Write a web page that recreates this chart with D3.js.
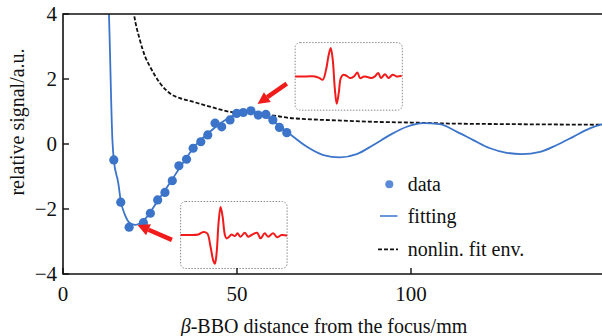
<!DOCTYPE html>
<html>
<head>
<meta charset="utf-8">
<script src="https://cdn.jsdelivr.net/npm/d3@7"></script>
<style>
  body { margin: 0; background: #fff; }
  svg { display: block; }
</style>
</head>
<body>
<svg id="chart" width="602" height="336" font-family="'Liberation Serif', 'Times New Roman', Times, serif"></svg>
<script>
// Axis ticks
const xTicks = [0, 50, 100];
const yTicks = [-4, -2, 0, 2, 4];

// Measured signal vs. crystal distance (mm, a.u.)
const dataX = [14.6, 16.6, 19.0, 23.1, 25.1, 27.2, 29.3, 31.4, 33.3, 35.5, 37.4, 39.6, 41.6, 43.7, 45.6, 48.0, 49.9, 51.8, 54.0, 56.1, 58.3, 60.3, 62.2, 64.3];
const dataY = [-0.49, -1.79, -2.56, -2.42, -2.13, -1.72, -1.49, -1.13, -0.67, -0.47, -0.13, 0.07, 0.28, 0.64, 0.53, 0.74, 0.94, 0.97, 1.02, 0.89, 0.91, 0.74, 0.51, 0.35];

// Fitted curve
const fitX = [13.0, 13.2, 14.2, 14.6, 15.9, 16.6, 17.8, 19.3, 20.7, 22.1, 24.0, 26.9, 30.7, 34.6, 38.4, 41.6, 44.0, 47.0, 51.8, 53.5, 55.0, 58.5, 64.3, 70.0, 74.8, 79.6, 84.4, 89.2, 94.0, 98.8, 103.5, 108.3, 113.1, 117.9, 122.7, 127.5, 131.8, 137.1, 141.9, 146.6, 151.4, 155.0, 157.0];
const fitY = [4.6, 4.0, 0.12, -0.49, -1.21, -1.75, -2.18, -2.44, -2.49, -2.44, -2.26, -1.80, -1.20, -0.56, 0.0, 0.32, 0.54, 0.76, 0.98, 1.0, 0.98, 0.84, 0.38, -0.08, -0.34, -0.41, -0.31, -0.03, 0.28, 0.53, 0.64, 0.61, 0.38, 0.12, -0.13, -0.27, -0.31, -0.24, -0.03, 0.22, 0.48, 0.61, 0.66];

// Nonlinear fit envelope
const envX = [20.0, 20.4, 22.1, 23.6, 25.0, 27.9, 30.7, 33.6, 37.0, 42.2, 48.0, 53.7, 59.5, 65.2, 71.0, 80.0, 90.0, 100.0, 111.0, 130.0, 157.0];
const envY = [4.3, 4.0, 3.2, 2.69, 2.38, 1.87, 1.56, 1.41, 1.31, 1.15, 0.99, 0.94, 0.89, 0.80, 0.76, 0.72, 0.68, 0.66, 0.63, 0.61, 0.59];

// Pulse waveforms shown in the two insets (normalised time, normalised field)
const pulseLowT = [0, 0.0875, 0.166, 0.2125, 0.25, 0.281, 0.306, 0.322, 0.3375, 0.356, 0.375, 0.394, 0.416, 0.431, 0.456, 0.478, 0.509, 0.534, 0.5625, 0.603, 0.634, 0.666, 0.719, 0.75, 0.79, 0.822, 0.869, 0.906, 0.947, 1.0];
const pulseLowV = [0, 0, 0.02, 0.11, 0.06, -0.42, -0.9, -1.02, -0.66, 0.42, 1.0, 0.66, 0, -0.12, -0.06, 0.02, -0.04, 0.06, -0.06, 0.08, -0.06, 0, 0.08, -0.12, 0.06, -0.06, 0.06, -0.08, 0, -0.02];
const pulseHighT = [0, 0.109, 0.186, 0.227, 0.258, 0.289, 0.311, 0.332, 0.351, 0.370, 0.388, 0.407, 0.426, 0.450, 0.481, 0.512, 0.550, 0.581, 0.606, 0.643, 0.674, 0.714, 0.745, 0.776, 0.801, 0.839, 0.870, 0.910, 0.947, 0.994];
const pulseHighV = [0, 0, 0, -0.06, -0.12, 0.24, 0.71, 1.0, 0.59, -0.41, -0.96, -0.59, -0.06, 0.06, 0.02, -0.06, 0, 0.14, -0.06, 0, -0.02, -0.06, 0, 0.12, -0.06, 0.08, -0.06, 0.06, 0, 0.02];

// Legend entries
const legendLabels = ["data", "fitting", "nonlin. fit env."];

const svg = d3.select("#chart");
const mLeft = 63, mTop = 14, mBottom = 274;
const x = d3.scaleLinear().domain([0, 157]).range([mLeft, mLeft + 157 * 3.48]);
const y = d3.scaleLinear().domain([-4, 4]).range([mBottom, mTop]);
const mRight = x(157);
const ink = "#111";

const blue = "#3b74c9";
const red = "#f21b1b";

svg.append("defs").append("clipPath").attr("id", "plotClip")
  .append("rect").attr("x", mLeft).attr("y", mTop).attr("width", mRight - mLeft).attr("height", mBottom - mTop);

const plot = svg.append("g").attr("clip-path", "url(#plotClip)");

const line = d3.line().curve(d3.curveMonotoneX);

// envelope
plot.append("path")
  .attr("d", line(envX.map((d, i) => [x(d), y(envY[i])])))
  .attr("fill", "none").attr("stroke", ink).attr("stroke-width", 1.8)
  .attr("stroke-dasharray", "4,2");

// fitting curve
plot.append("path")
  .attr("d", line(fitX.map((d, i) => [x(d), y(fitY[i])])))
  .attr("fill", "none").attr("stroke", blue).attr("stroke-width", 1.8);

// data points
plot.selectAll("circle.pt").data(dataX).join("circle")
  .attr("class", "pt")
  .attr("cx", d => x(d)).attr("cy", (d, i) => y(dataY[i]))
  .attr("r", 4.6).attr("fill", blue);

// arrows
function arrow(x0, y0, x1, y1) {
  const px0 = x(x0), py0 = y(y0), px1 = x(x1), py1 = y(y1);
  const ang = Math.atan2(py1 - py0, px1 - px0);
  const headLen = 12, headW = 6;
  const bx = px1 - headLen * Math.cos(ang), by = py1 - headLen * Math.sin(ang);
  svg.append("line")
    .attr("x1", px0).attr("y1", py0).attr("x2", bx).attr("y2", by)
    .attr("stroke", red).attr("stroke-width", 4.5);
  const nx = -Math.sin(ang), ny = Math.cos(ang);
  svg.append("polygon")
    .attr("points", [[px1, py1], [bx + nx * headW, by + ny * headW], [bx - nx * headW, by - ny * headW]].map(p => p.join(",")).join(" "))
    .attr("fill", red);
}
arrow(31.3, -2.95, 21.4, -2.49);
arrow(64.3, 1.86, 55.9, 1.23);

// insets
function inset(x0, x1, y0, y1, ts, vs) {
  const bx0 = x(x0), bx1 = x(x1), by0 = y(y0), by1 = y(y1);
  const g = svg.append("g");
  g.append("rect")
    .attr("x", bx0).attr("y", by0).attr("width", bx1 - bx0).attr("height", by1 - by0)
    .attr("rx", 5).attr("fill", "#fff")
    .attr("stroke", "#8a8a8a").attr("stroke-width", 1).attr("stroke-dasharray", "1.5,1.5");
  const h = by1 - by0;
  const tx = d3.scaleLinear().domain([0, 1]).range([bx0, bx1]);
  const vy = d3.scaleLinear().domain([-1, 1]).range([by0 + h / 2 + h * 0.42, by0 + h / 2 - h * 0.42]);
  g.append("path")
    .attr("d", d3.line().curve(d3.curveCatmullRom.alpha(0.5))(ts.map((t, i) => [tx(t), vy(vs[i])])))
    .attr("fill", "none").attr("stroke", red).attr("stroke-width", 2);
}
inset(33.8, 64.4, -1.77, -3.83, pulseLowT, pulseLowV);
inset(66.7, 97.5, 3.12, 1.04, pulseHighT, pulseHighV);

// frame
svg.append("path")
  .attr("d", `M${mRight},${mTop}H${mLeft}V${mBottom}H${mRight}`)
  .attr("fill", "none").attr("stroke", ink).attr("stroke-width", 1.6);

// ticks
svg.selectAll("line.yt").data(yTicks).join("line").attr("class", "yt")
  .attr("x1", mLeft).attr("x2", mLeft + 6).attr("y1", d => y(d)).attr("y2", d => y(d))
  .attr("stroke", ink).attr("stroke-width", 1.4);
svg.selectAll("line.xt").data(xTicks).join("line").attr("class", "xt")
  .attr("x1", d => x(d)).attr("x2", d => x(d)).attr("y1", mBottom).attr("y2", mBottom - 6)
  .attr("stroke", ink).attr("stroke-width", 1.4);

svg.selectAll("text.yl").data(yTicks).join("text").attr("class", "yl")
  .attr("x", mLeft - 6).attr("y", d => y(d) + 7)
  .attr("text-anchor", "end").attr("font-size", 21).attr("fill", ink)
  .text(d => d < 0 ? "\u2212" + Math.abs(d) : d);
svg.selectAll("text.xl").data(xTicks).join("text").attr("class", "xl")
  .attr("x", d => x(d)).attr("y", 301)
  .attr("text-anchor", "middle").attr("font-size", 21).attr("fill", ink)
  .text(d => d);

// axis titles
const xt = svg.append("text").attr("x", 324).attr("y", 333)
  .attr("text-anchor", "middle").attr("font-size", 20).attr("fill", ink);
xt.append("tspan").attr("font-style", "italic").text("\u03b2");
xt.append("tspan").text("-BBO distance from the focus/mm");

svg.append("text")
  .attr("transform", "translate(24,122) rotate(-90)")
  .attr("text-anchor", "middle").attr("font-size", 20).attr("fill", ink)
  .text("relative signal/a.u.");

// legend
const lg = svg.append("g");
const rowY = [184.3, 216, 249.3];
lg.append("circle").attr("cx", 389.3).attr("cy", rowY[0]).attr("r", 4).attr("fill", "#5a8ad8");
lg.append("line").attr("x1", 380).attr("x2", 397.5).attr("y1", rowY[1]).attr("y2", rowY[1])
  .attr("stroke", "#5a8ad8").attr("stroke-width", 1.8);
lg.append("line").attr("x1", 378).attr("x2", 398).attr("y1", rowY[2]).attr("y2", rowY[2])
  .attr("stroke", ink).attr("stroke-width", 1.8).attr("stroke-dasharray", "4,2");
lg.selectAll("text").data(legendLabels).join("text")
  .attr("x", 407.7).attr("y", (d, i) => rowY[i] + 6.5)
  .attr("font-size", 20).attr("fill", ink).text(d => d);
</script>
</body>
</html>
